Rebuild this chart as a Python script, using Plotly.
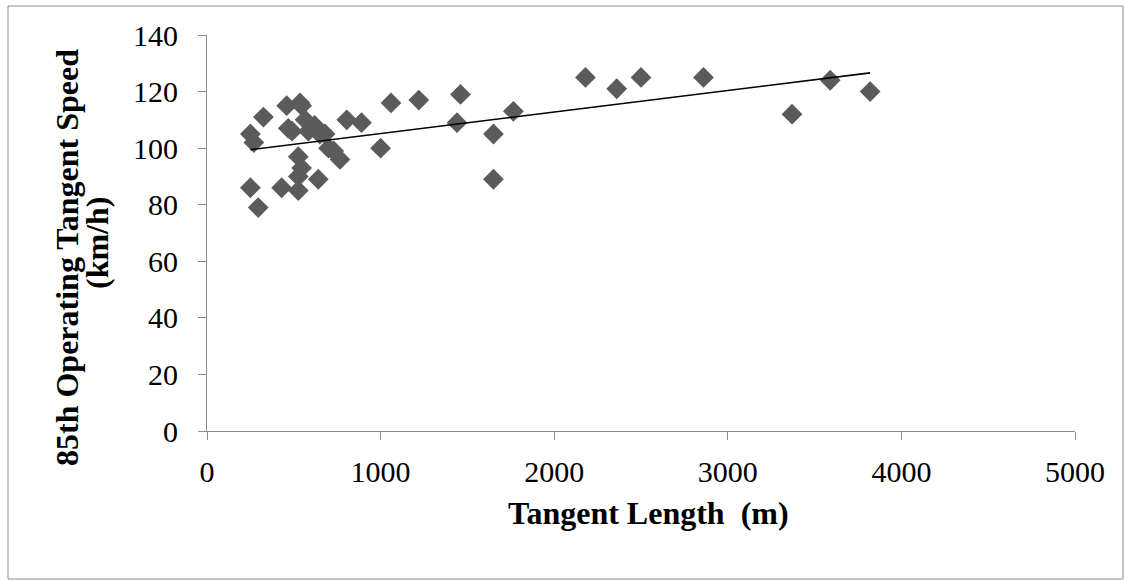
import numpy as np
import plotly.graph_objects as go

tangent_length = [250, 295, 250, 270, 325, 430, 459, 468, 490, 526, 545, 526, 526, 536, 545,
                  565, 584, 620, 650, 641, 680, 700, 730, 766, 805, 890, 1000, 1060, 1220,
                  1440, 1460, 1650, 1650, 1765, 2180, 2360, 2500, 2860, 3370, 3590, 3820]
speed_85 = [86, 79, 105, 102, 111, 86, 115, 107, 106, 97, 93, 90, 85, 116, 115,
            110, 106, 108, 105, 89, 105, 100, 99, 96, 110, 109, 100, 116, 117,
            109, 119, 105, 89, 113, 125, 121, 125, 125, 112, 124, 120]
x_ticks = [0, 1000, 2000, 3000, 4000, 5000]
y_ticks = [0, 20, 40, 60, 80, 100, 120, 140]

# linear trend line over the data range
slope, intercept = np.polyfit(tangent_length, speed_85, 1)
trend_x = [min(tangent_length), max(tangent_length)]
trend_y = [slope * v + intercept for v in trend_x]

W, H = 1125, 580
L, R, T, B = 207, 50, 35, 149
PW, PH = W - L - R, H - T - B

def px_x(p):
    return (p - L) / PW

def px_y(p):
    return (H - B - p) / PH

FONT = "Liberation Serif, Times New Roman, serif"
AXIS_GRAY = "#8c8c8c"

fig = go.Figure()
fig.add_trace(go.Scatter(
    x=tangent_length, y=speed_85, mode="markers",
    marker=dict(symbol="diamond", size=16, color="#5b5b5b", line=dict(width=0)),
    showlegend=False, hoverinfo="x+y"))
fig.add_trace(go.Scatter(
    x=trend_x, y=trend_y, mode="lines",
    line=dict(color="black", width=1.6), showlegend=False, hoverinfo="skip"))

fig.update_layout(
    width=W, height=H,
    margin=dict(l=L, r=R, t=T, b=B),
    paper_bgcolor="white", plot_bgcolor="white",
    font=dict(family=FONT, size=30, color="black"),
    xaxis=dict(range=[0, 5000], tickvals=x_ticks, showgrid=False, zeroline=False,
               showline=True, linecolor=AXIS_GRAY, linewidth=1,
               ticks="outside", ticklen=8, tickcolor=AXIS_GRAY,
               tickfont=dict(family=FONT, size=30, color="black"),
               ticklabelstandoff=6),
    yaxis=dict(range=[0, 140], tickvals=y_ticks, showgrid=False, zeroline=False,
               showline=True, linecolor=AXIS_GRAY, linewidth=1,
               ticks="outside", ticklen=8, tickcolor=AXIS_GRAY,
               tickfont=dict(family=FONT, size=30, color="black"),
               ticklabelstandoff=14),
    shapes=[dict(type="rect", xref="paper", yref="paper",
                 x0=px_x(8), x1=px_x(1123), y0=px_y(579), y1=px_y(6),
                 line=dict(color=AXIS_GRAY, width=1), fillcolor="rgba(0,0,0,0)", layer="below")],
    annotations=[
        dict(text="<b>Tangent Length  (m)</b>", xref="paper", yref="paper",
             x=px_x(648), y=px_y(513), showarrow=False, xanchor="center", yanchor="middle",
             font=dict(family=FONT, size=32, color="black")),
        dict(text="<b>85th Operating Tangent Speed</b>", xref="paper", yref="paper",
             x=px_x(67), y=px_y(258), showarrow=False, xanchor="center", yanchor="middle",
             textangle=-90, font=dict(family=FONT, size=32, color="black")),
        dict(text="<b>(km/h)</b>", xref="paper", yref="paper",
             x=px_x(97), y=px_y(243), showarrow=False, xanchor="center", yanchor="middle",
             textangle=-90, font=dict(family=FONT, size=32, color="black")),
    ],
)

fig.write_html("out.html")
